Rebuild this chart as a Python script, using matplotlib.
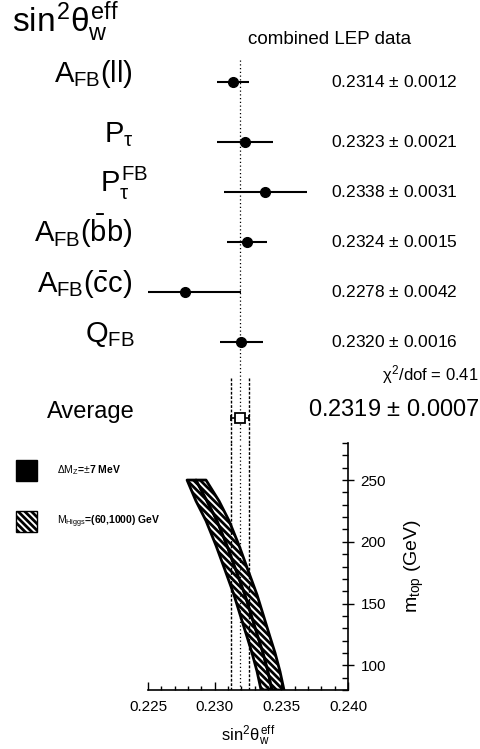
import matplotlib
matplotlib.use('Agg')
import matplotlib.pyplot as plt
from matplotlib.patches import Patch
from matplotlib.ticker import MultipleLocator, FormatStrFormatter
from matplotlib.transforms import blended_transform_factory

plt.rcParams['font.family'] = ['Liberation Sans', 'DejaVu Sans']
plt.rcParams['mathtext.fontset'] = 'custom'
plt.rcParams['mathtext.rm'] = 'Liberation Sans'
plt.rcParams['mathtext.it'] = 'Liberation Sans'
plt.rcParams['mathtext.bf'] = 'Liberation Sans:bold'
plt.rcParams['hatch.linewidth'] = 2.0

# sin^2 theta_eff measurements (combined LEP data)
labels = [r'$A_{FB}(ll)$', r'$P_\tau$', r'$P_\tau^{FB}$',
          r'$A_{FB}(\bar{b}b)$', r'$A_{FB}(\bar{c}c)$', r'$Q_{FB}$']
values = [0.2314, 0.2323, 0.2338, 0.2324, 0.2278, 0.2320]
errors = [0.0012, 0.0021, 0.0031, 0.0015, 0.0042, 0.0016]
avg_value = 0.2319
avg_error = 0.0007
chi2_dof = 0.41

# standard model band: sin^2 theta_eff vs m_top
mtop = [80, 95, 110, 123, 136, 157, 177, 197, 217, 233, 250]
band_left = [0.23348, 0.23318, 0.23280, 0.23243, 0.23205, 0.23145,
             0.23078, 0.23010, 0.22935, 0.22860, 0.22793]
band_mid = [0.23430, 0.23400, 0.23363, 0.23325, 0.23288, 0.23228,
            0.23160, 0.23093, 0.23018, 0.22943, 0.22860]
band_right = [0.23520, 0.23490, 0.23453, 0.23415, 0.23378, 0.23318,
              0.23250, 0.23183, 0.23108, 0.23033, 0.22935]

# layout (pixels of the 481x749 picture)
W, H = 481, 749
rows = [0, 1.2, 2.2, 3.2, 4.2, 5.2]
avg_row = 6.72
label_right = [133, 133, 148, 132, 132, 135]


def box(x0, y0, x1, y1):
    return [x0 / W, 1 - y1 / H, (x1 - x0) / W, (y1 - y0) / H]


fig = plt.figure(figsize=(4.81, 7.49), dpi=100)
ax_top = fig.add_axes(box(148, 55, 348, 443))
ax_bot = fig.add_axes(box(148, 443, 348, 690))

# ---- upper part: the measurements
ax_top.set_xlim(0.225, 0.240)
ax_top.set_ylim(7.22, -0.54)
ax_top.axis('off')

ax_top.vlines(avg_value, -0.44, 7.22, colors='black', linestyles=(0, (1, 2)), lw=0.9)
ax_top.vlines([avg_value - avg_error, avg_value + avg_error], 5.92, 7.22,
              colors='black', linestyles=(0, (2, 1.2)), lw=1.0)

ax_top.errorbar(values, rows, xerr=errors, fmt='o', color='black', ms=7,
                elinewidth=1.5, capsize=0, zorder=3)
ax_top.errorbar([avg_value], [avg_row], xerr=[avg_error], fmt='s', mfc='white',
                mec='black', ms=7, mew=1.3, ecolor='black', elinewidth=1.2,
                capsize=2, zorder=3)

tr = blended_transform_factory(fig.transFigure, ax_top.transData)
for lab, v, e, y, xr in zip(labels, values, errors, rows, label_right):
    ax_top.text(xr / W, y, lab, transform=tr, ha='right', va='baseline', fontsize=21)
    ax_top.text(331 / W, y, f'{v:.4f} $\\pm$ {e:.4f}', transform=tr,
                ha='left', va='center', fontsize=12.5)

ax_top.text(135 / W, avg_row, 'Average', transform=tr, ha='right',
            va='baseline', fontsize=17)
ax_top.text(479 / W, avg_row - 0.16, f'{avg_value:.4f} $\\pm$ {avg_error:.4f}',
            transform=tr, ha='right', va='center', fontsize=17)
ax_top.text(479 / W, 5.86, r'$\chi^2$/dof = ' + f'{chi2_dof:.2f}', transform=tr,
            ha='right', va='center', fontsize=12)

fig.text(12 / W, 1 - 32 / H, r'$sin^2\theta_w^{eff}$', ha='left', va='baseline',
         fontsize=24)
fig.text(330 / W, 1 - 40 / H, 'combined LEP data', ha='center', va='center',
         fontsize=13.5)

# ---- lower part: m_top vs sin^2 theta
ax_bot.fill_betweenx(mtop, band_left, band_mid, facecolor='white',
                     edgecolor='black', hatch='\\' * 5, lw=2.0)
ax_bot.fill_betweenx(mtop, band_mid, band_right, facecolor='white',
                     edgecolor='black', hatch='\\' * 5, lw=2.0)
ax_bot.axvline(avg_value, color='black', ls=(0, (1, 2)), lw=0.9)
for xv in (avg_value - avg_error, avg_value + avg_error):
    ax_bot.axvline(xv, color='black', ls=(0, (2, 1.2)), lw=1.0)

ax_bot.set_xlim(0.225, 0.240)
ax_bot.set_ylim(80, 280)
ax_bot.spines['left'].set_visible(False)
ax_bot.spines['top'].set_visible(False)
ax_bot.spines['right'].set_linewidth(1.2)
ax_bot.spines['bottom'].set_linewidth(1.2)

ax_bot.xaxis.set_major_locator(MultipleLocator(0.005))
ax_bot.xaxis.set_minor_locator(MultipleLocator(0.001))
ax_bot.xaxis.set_major_formatter(FormatStrFormatter('%.3f'))
ax_bot.tick_params(axis='x', which='major', direction='in', length=6, width=1,
                   labelsize=11, pad=7)
ax_bot.tick_params(axis='x', which='minor', direction='in', length=3, width=1)

ax_bot.yaxis.tick_right()
ax_bot.yaxis.set_label_position('right')
ax_bot.yaxis.set_major_locator(MultipleLocator(50))
ax_bot.yaxis.set_minor_locator(MultipleLocator(10))
ax_bot.tick_params(axis='y', which='major', direction='inout', length=8, width=1,
                   labelsize=11, pad=5)
ax_bot.tick_params(axis='y', which='minor', direction='in', length=4, width=1)

ax_bot.set_xlabel(r'$sin^2\theta_w^{eff}$', fontsize=12, labelpad=7)
ax_bot.set_ylabel(r'$m_{top}$ (GeV)', fontsize=14, labelpad=12)

handles = [Patch(facecolor='black', edgecolor='black'),
           Patch(facecolor='white', edgecolor='black', hatch='\\' * 5)]
leg_labels = [r'$\Delta M_Z$=$\pm$7 MeV', r'$M_{Higgs}$=(60,1000) GeV']
fig.legend(handles, leg_labels, loc='upper left', bbox_to_anchor=(16 / W, 1 - 460 / H),
           frameon=False, prop={'size': 7.5, 'weight': 'bold'}, handlelength=2.0,
           handleheight=2.7, labelspacing=2.9, handletextpad=1.9, borderpad=0,
           borderaxespad=0)

fig.savefig('out.png', dpi=100)
